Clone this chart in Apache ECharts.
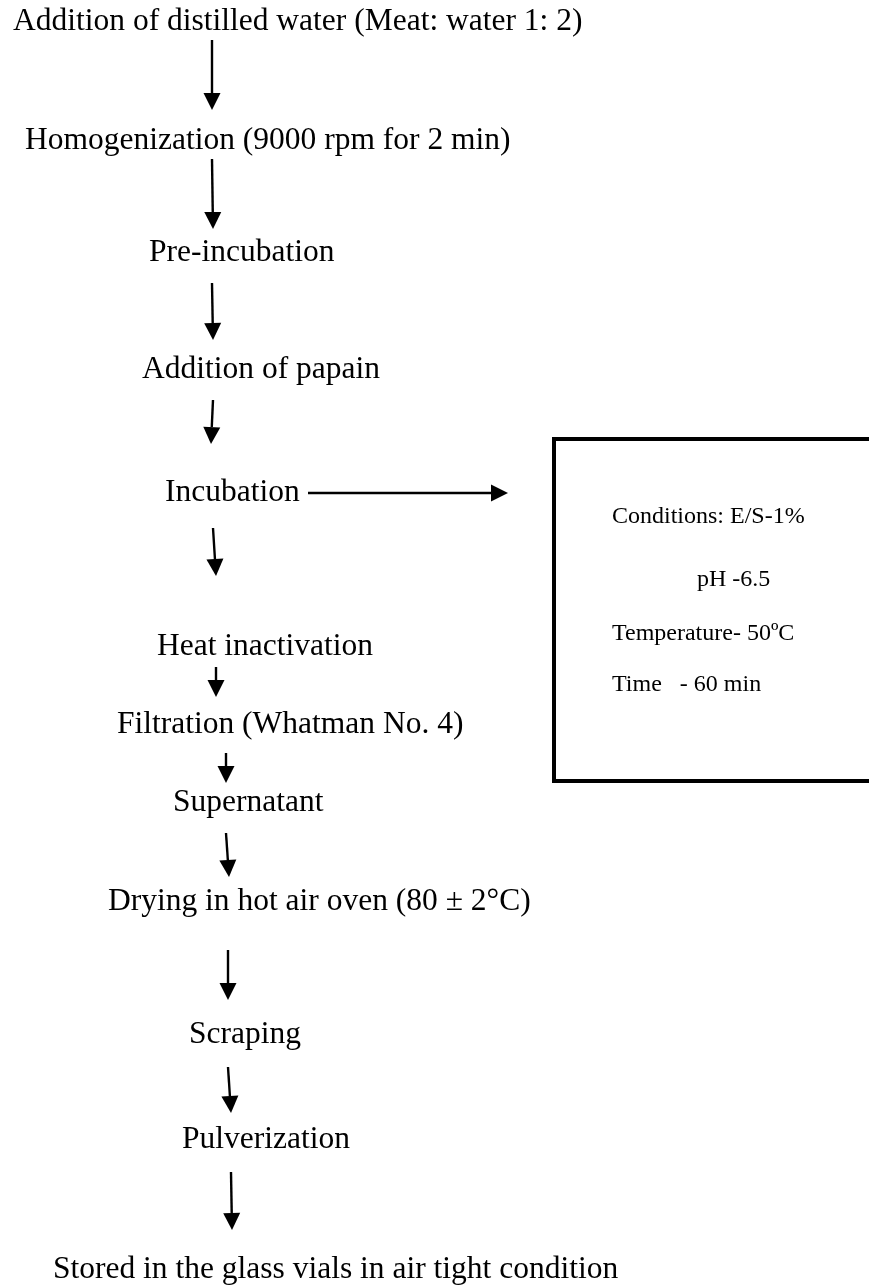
<!DOCTYPE html>
<html>
<head>
<meta charset="utf-8">
<title>Flow chart</title>
<script src="https://cdn.jsdelivr.net/npm/echarts@6/dist/echarts.min.js"></script>
<style>
  html, body { margin: 0; padding: 0; background: #fff; }
  #chart { width: 869px; height: 1287px; }
</style>
</head>
<body>
<div id="chart"></div>
<script>
// process steps (left edge of text, vertical middle of capitals)
const stepLabels = [
  'Addition of distilled water (Meat: water 1: 2)',
  'Homogenization (9000 rpm for 2 min)',
  'Pre-incubation',
  'Addition of papain',
  'Incubation',
  'Heat inactivation',
  'Filtration (Whatman No. 4)',
  'Supernatant',
  'Drying in hot air oven (80 \u00b1 2\u00b0C)',
  'Scraping',
  'Pulverization',
  'Stored in the glass vials in air tight condition'
]
const stepX = [13, 25, 149, 142, 165, 157, 117, 173, 108, 189, 182, 53]
const stepY = [22, 141, 253, 370, 493, 647, 725, 803, 902, 1035, 1140, 1270]

// incubation conditions inside the box
const condLabels = ['Conditions: E/S-1%', 'pH -6.5', 'Temperature- 50\u00baC', 'Time   - 60 min']
const condX = [612, 697, 612, 612]
const condY = [517, 580, 634, 685]

// arrows: start x, start y, tip x, tip y
const arrowX1 = [212, 212, 212, 213, 213, 308, 216, 226, 226, 228, 228, 231]
const arrowY1 = [40, 159, 283, 400, 528, 493, 667, 753, 833, 950, 1067, 1172]
const arrowX2 = [212, 213, 213, 211, 216, 508, 216, 226, 229, 228, 231, 232]
const arrowY2 = [110, 229, 340, 444, 576, 493, 697, 783, 877, 1000, 1113, 1230]

// conditions box outline (open on the right side, cut by the page edge)
const boxX = [875, 554, 554, 875]
const boxY = [439, 439, 781, 781]

const FONT = '"Liberation Serif", "Times New Roman", serif'

const chart = echarts.init(document.getElementById('chart'))

// draw a straight arrow with a solid triangle head
const renderArrow = (params, api) => {
  const p1 = api.coord([api.value(0), api.value(1)])
  const p2 = api.coord([api.value(2), api.value(3)])
  const dx = p2[0] - p1[0]
  const dy = p2[1] - p1[1]
  const len = Math.sqrt(dx * dx + dy * dy)
  const ux = dx / len
  const uy = dy / len
  const headLen = 17
  const headHalf = 8.5
  const bx = p2[0] - ux * headLen
  const by = p2[1] - uy * headLen
  return {
    type: 'group',
    children: [
      {
        type: 'line',
        shape: { x1: p1[0], y1: p1[1], x2: bx, y2: by },
        style: { stroke: '#000', lineWidth: 2.4 }
      },
      {
        type: 'polygon',
        shape: {
          points: [
            [p2[0], p2[1]],
            [bx - uy * headHalf, by + ux * headHalf],
            [bx + uy * headHalf, by - ux * headHalf]
          ]
        },
        style: { fill: '#000' }
      }
    ]
  }
}

// text renderer factory
const makeTextRenderer = (labels, size) => (params, api) => {
  const p = api.coord([api.value(0), api.value(1)])
  return {
    type: 'text',
    x: p[0],
    y: p[1],
    style: {
      text: labels[api.value(2)],
      fill: '#000',
      fontSize: size,
      fontFamily: FONT,
      align: 'left',
      verticalAlign: 'middle'
    }
  }
}

const option = {
  backgroundColor: '#fff',
  animation: false,
  grid: { left: 0, right: 0, top: 0, bottom: 0 },
  xAxis: { type: 'value', min: 0, max: 869, show: false },
  yAxis: { type: 'value', min: 0, max: 1287, inverse: true, show: false },
  series: [
    {
      name: 'box',
      type: 'line',
      data: boxX.map((x, i) => [x, boxY[i]]),
      symbol: 'none',
      lineStyle: { color: '#000', width: 4, join: 'miter' },
      silent: true
    },
    {
      name: 'arrows',
      type: 'custom',
      clip: false,
      renderItem: renderArrow,
      data: arrowX1.map((x, i) => [x, arrowY1[i], arrowX2[i], arrowY2[i]])
    },
    {
      name: 'steps',
      type: 'custom',
      clip: false,
      renderItem: makeTextRenderer(stepLabels, 31.5),
      data: stepLabels.map((t, i) => [stepX[i], stepY[i], i])
    },
    {
      name: 'conditions',
      type: 'custom',
      clip: false,
      renderItem: makeTextRenderer(condLabels, 24),
      data: condLabels.map((t, i) => [condX[i], condY[i], i])
    }
  ]
}

chart.setOption(option)
window.addEventListener('resize', () => chart.resize())
</script>
</body>
</html>
